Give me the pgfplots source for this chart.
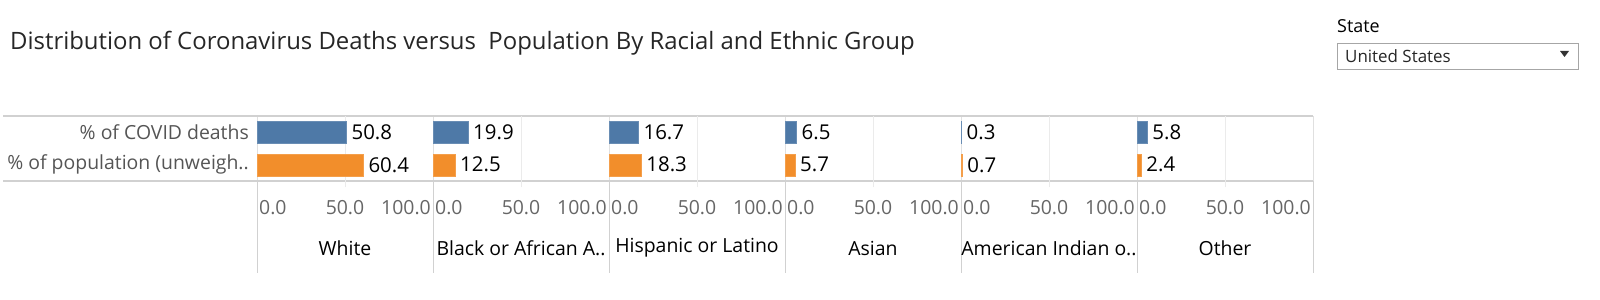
\documentclass[border=0pt]{standalone}
\usepackage{pgfplots}
\pgfplotsset{compat=1.18}
\usepackage{fontspec}
\setmainfont{Open Sans}
\definecolor{tblue}{HTML}{4E79A7}
\definecolor{torange}{HTML}{F28E2B}
\definecolor{gridc}{HTML}{EBEBEB}
\definecolor{sepc}{HTML}{D4D4D4}
\definecolor{labc}{HTML}{555555}
\definecolor{tickc}{HTML}{666666}

\newcommand{\panel}[4]{%
\begin{axis}[at={(#1bp,119bp)}, anchor=south west, width=176bp, height=65bp,
  scale only axis, xmin=0, xmax=100, ymin=0.5, ymax=2.5,
  axis lines=none, xtick=\empty, ytick=\empty, clip=false,
  xbar, bar width=22bp, bar shift=0pt,
  nodes near coords, nodes near coords align={horizontal},
  every node near coord/.style={font=\fontsize{20.5}{24}\selectfont, text=black, inner xsep=5bp},
  point meta=x,
  /pgf/number format/.cd, fixed, fixed zerofill, precision=1, assume math mode=true]
\draw[gridc, line width=1bp] (rel axis cs:0.5,-0.1) -- (rel axis cs:0.5,1);
\addplot[fill=tblue, draw=tblue!85!white] coordinates {(#2,2)};
\addplot[fill=torange, draw=torange!85!white] coordinates {(#3,1)};
\end{axis}
\node[anchor=west, text=tickc, font=\fontsize{19.5}{23}\selectfont, inner xsep=1bp] at (#1bp+1bp, 92bp) {0.0};
\node[anchor=center, text=tickc, font=\fontsize{19.5}{23}\selectfont] at (#1bp+88bp, 92bp) {50.0};
\node[anchor=east, text=tickc, font=\fontsize{19.5}{23}\selectfont, inner xsep=1bp] at (#1bp+175bp, 92bp) {100.0};
\node[anchor=center, text=black, font=\fontsize{19.5}{23}\selectfont, inner xsep=0pt] at (#1bp+88bp, 52bp) {#4};
}

\begin{document}
\begin{tikzpicture}
\path[use as bounding box] (0,0) rectangle (1600bp,300bp);
% title
\node[anchor=west, text=black!85, font=\fontsize{24}{28}\selectfont, inner xsep=0pt] at (10bp,257bp) {Distribution of Coronavirus Deaths versus\ \ Population By Racial and Ethnic Group};
% state filter
\node[anchor=west, text=black, font=\fontsize{18}{21}\selectfont, inner xsep=0pt] at (1337bp,274bp) {State};
\draw[black!35, line width=0.8bp, fill=white] (1337bp,231bp) rectangle (1578bp,257bp);
\node[anchor=west, text=black!85, font=\fontsize{17}{20}\selectfont, inner xsep=0pt] at (1345bp,244bp) {United States};
\fill[black!80] (1560bp,249bp) -- (1569bp,249bp) -- (1564.5bp,243bp) -- cycle;
% separators
\foreach \L in {257,433,609,785,961,1137,1313} {
  \draw[black!12, line width=1bp] (\L bp,184bp) -- (\L bp,119bp);
  \draw[black!18, line width=1bp] (\L bp,119bp) -- (\L bp,27bp);
}
\draw[black!18, line width=1.5bp] (3bp,184bp) -- (1313bp,184bp);
\draw[black!18, line width=1.5bp] (3bp,119bp) -- (1313bp,119bp);
% row labels
\node[anchor=east, text=labc, font=\fontsize{19.5}{22}\selectfont, inner xsep=0pt] at (249bp,168bp) {\% of COVID deaths};
\node[anchor=east, text=labc, font=\fontsize{19.5}{22}\selectfont, inner xsep=0pt] at (249bp,136bp) {\% of population (unweigh..};
\panel{257}{50.8}{60.4}{White}
\panel{433}{19.9}{12.5}{Black or African A..}
\panel{609}{16.7}{18.3}{Hispanic or Latino}
\panel{785}{6.5}{5.7}{Asian}
\panel{961}{0.3}{0.7}{American Indian o..}
\panel{1137}{5.8}{2.4}{Other}
\end{tikzpicture}
\end{document}
